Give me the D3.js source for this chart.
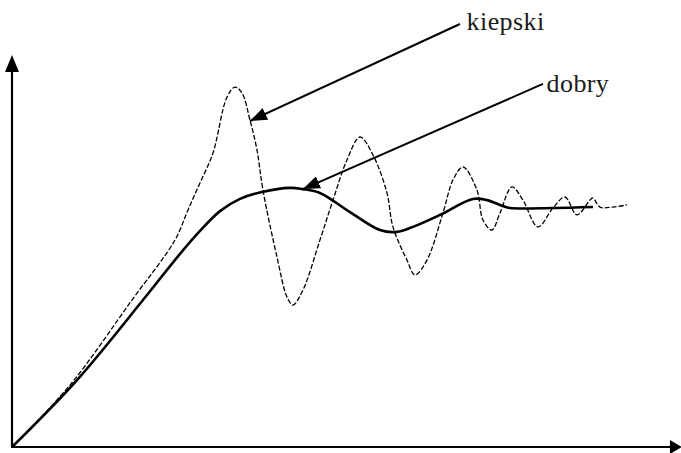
<!DOCTYPE html>
<html>
<head>
<meta charset="utf-8">
<script src="https://cdn.jsdelivr.net/npm/d3@7"></script>
<style>
  html, body { margin: 0; padding: 0; background: #fff; }
  svg { display: block; }
</style>
</head>
<body>
<svg id="chart" width="681" height="453"></svg>
<script>
// ---- Data (time t, normalised response y; steady state = 1) ----
const dobryT = [0, 0.975, 1.965, 2.52, 2.82, 3.12, 3.42, 3.75, 4.17, 4.365, 4.62, 5.07, 5.52, 5.775, 6.015, 6.42, 6.915, 7.125, 7.365, 7.47, 8.115, 8.715];
const dobryY = [0, 0.280, 0.615, 0.808, 0.904, 0.987, 1.038, 1.067, 1.084, 1.079, 1.063, 0.983, 0.908, 0.900, 0.921, 0.971, 1.038, 1.033, 1.008, 1.0, 1.0, 1.004];

const kiepskiT = [0, 0.87, 1.80, 2.445, 2.64, 2.82, 3.015, 3.225, 3.345, 3.45, 3.57, 3.675, 3.765, 3.975, 4.125, 4.215, 4.365, 4.62, 4.815, 5.025, 5.22, 5.415, 5.625, 5.715, 5.925, 6.045, 6.225, 6.465, 6.615, 6.765, 6.975, 7.065, 7.2, 7.32, 7.5, 7.665, 7.89, 8.115, 8.295, 8.475, 8.67, 8.715, 8.82, 9.015, 9.225];
const kiepskiY = [0, 0.259, 0.615, 0.866, 0.992, 1.105, 1.230, 1.464, 1.506, 1.481, 1.368, 1.243, 1.075, 0.795, 0.628, 0.594, 0.657, 0.866, 1.033, 1.201, 1.297, 1.222, 1.063, 0.921, 0.782, 0.720, 0.782, 0.979, 1.117, 1.172, 1.075, 0.950, 0.908, 0.979, 1.088, 1.033, 0.921, 1.0, 1.046, 0.971, 1.033, 1.042, 1.004, 1.004, 1.013];

// annotation labels: label text, text anchor (t,y), arrow start (t,y), arrow tip (t,y)
const labels = ["kiepski", "dobry"];
const labelPos = [[6.82, 1.745], [8.02, 1.485]];
const arrowFrom = [[6.72, 1.77], [7.965, 1.519]];
const arrowTo = [[3.57, 1.364], [4.365, 1.079]];

// axis extents
const xMax = 10.05;
const yMax = 1.64;

// ---- Drawing ----
const svg = d3.select("#chart");
const x = d3.scaleLinear().domain([0, 10]).range([12, 678.6]);
const y = d3.scaleLinear().domain([0, 1]).range([447, 208]);

// axes
const axisG = svg.append("g");
axisG.append("line")
  .attr("x1", x(0)).attr("y1", y(0)).attr("x2", x(0)).attr("y2", y(yMax) + 10)
  .attr("stroke", "#000").attr("stroke-width", 2.2);
axisG.append("line")
  .attr("x1", x(0) - 1).attr("y1", y(0)).attr("x2", x(xMax) - 8).attr("y2", y(0))
  .attr("stroke", "#000").attr("stroke-width", 2.2);
// axis arrow heads
axisG.append("path")
  .attr("d", `M${x(0)},${y(yMax)} L${x(0) - 7},${y(yMax) + 17} L${x(0) + 7},${y(yMax) + 17} Z`)
  .attr("fill", "#000");
axisG.append("path")
  .attr("d", `M${x(xMax)},${y(0)} L${x(xMax) - 12},${y(0) - 7} L${x(xMax) - 12},${y(0) + 7} Z`)
  .attr("fill", "#000");

const line = d3.line()
  .x(d => x(d[0])).y(d => y(d[1]))
  .curve(d3.curveCatmullRom.alpha(0.5));

const kData = kiepskiT.map((t, i) => [t, kiepskiY[i]]);
const dData = dobryT.map((t, i) => [t, dobryY[i]]);

svg.append("path")
  .datum(kData)
  .attr("d", line)
  .attr("fill", "none")
  .attr("stroke", "#000")
  .attr("stroke-width", 1.3)
  .attr("stroke-dasharray", "5,2");

svg.append("path")
  .datum(dData)
  .attr("d", line)
  .attr("fill", "none")
  .attr("stroke", "#000")
  .attr("stroke-width", 2.6);

// annotation arrows
svg.append("defs").append("marker")
  .attr("id", "ah")
  .attr("viewBox", "0 0 17 13")
  .attr("refX", 17).attr("refY", 6.5)
  .attr("markerWidth", 17).attr("markerHeight", 13)
  .attr("markerUnits", "userSpaceOnUse")
  .attr("orient", "auto")
  .append("path")
  .attr("d", "M0,0 L17,6.5 L0,13 Z")
  .attr("fill", "#000");

labels.forEach((lab, i) => {
  svg.append("line")
    .attr("x1", x(arrowFrom[i][0])).attr("y1", y(arrowFrom[i][1]))
    .attr("x2", x(arrowTo[i][0])).attr("y2", y(arrowTo[i][1]))
    .attr("stroke", "#000").attr("stroke-width", 2)
    .attr("marker-end", "url(#ah)");
  svg.append("text")
    .attr("x", x(labelPos[i][0])).attr("y", y(labelPos[i][1]))
    .attr("font-family", "'Liberation Serif', 'DejaVu Serif', serif")
    .attr("font-size", 26)
    .attr("letter-spacing", 0.4)
    .attr("fill", "#1a1a1a")
    .text(lab);
});
</script>
</body>
</html>
